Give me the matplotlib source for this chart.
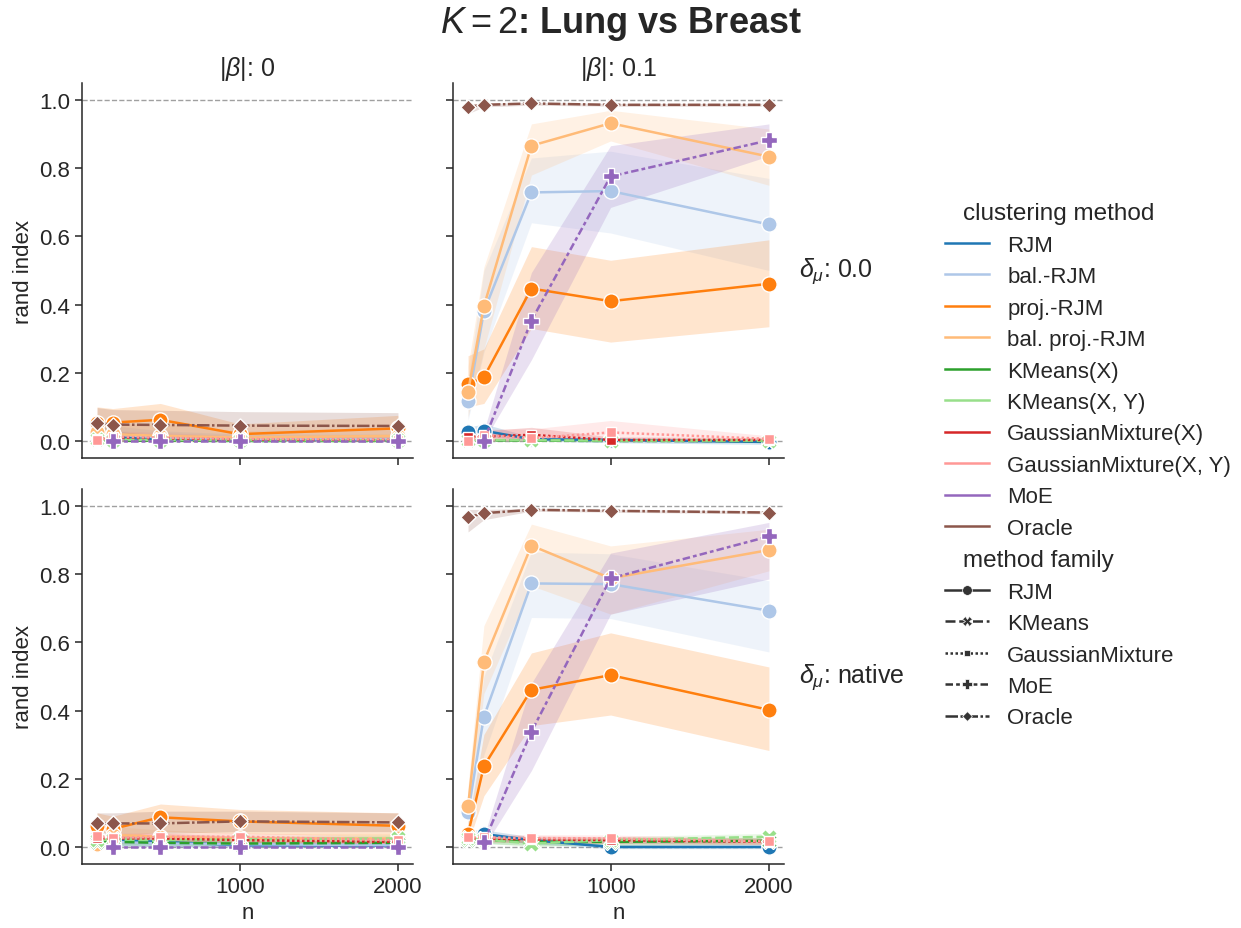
import numpy as np
import matplotlib.pyplot as plt
from matplotlib.lines import Line2D

plt.rcParams["font.family"] = ["Liberation Sans", "DejaVu Sans"]
plt.rcParams["mathtext.fontset"] = "custom"
plt.rcParams["mathtext.rm"] = "Liberation Sans"
plt.rcParams["mathtext.it"] = "Liberation Sans:italic"
plt.rcParams["mathtext.bf"] = "Liberation Sans:bold"
plt.rcParams["axes.linewidth"] = 1.1
plt.rcParams["axes.edgecolor"] = "#262626"
plt.rcParams["text.color"] = "#262626"
plt.rcParams["axes.labelcolor"] = "#262626"
plt.rcParams["xtick.color"] = "#262626"
plt.rcParams["ytick.color"] = "#262626"

# ---- data ----
n_values = [100, 200, 500, 1000, 2000]
methods = ["RJM", "bal.-RJM", "proj.-RJM", "bal. proj.-RJM", "KMeans(X)", "KMeans(X, Y)",
           "GaussianMixture(X)", "GaussianMixture(X, Y)", "MoE", "Oracle"]
families = ["RJM", "RJM", "RJM", "RJM", "KMeans", "KMeans",
            "GaussianMixture", "GaussianMixture", "MoE", "Oracle"]
family_order = ["RJM", "KMeans", "GaussianMixture", "MoE", "Oracle"]
col_titles = [r"$|\beta|$: 0", r"$|\beta|$: 0.1"]
row_titles = [r"$\delta_\mu$: 0.0", r"$\delta_\mu$: native"]
nan = np.nan

# |beta| = 0, delta_mu = 0.0
mean_b0_d0 = {
    "RJM": [0.02, 0.01, 0.005, 0.003, 0.003],
    "bal.-RJM": [0.02, 0.02, 0.01, 0.005, 0.005],
    "proj.-RJM": [0.054, 0.054, 0.062, 0.02, 0.037],
    "bal. proj.-RJM": [0.027, 0.02, 0.015, 0.01, 0.015],
    "KMeans(X)": [0.002, 0.001, 0.001, 0.0, 0.0],
    "KMeans(X, Y)": [0.005, 0.004, 0.003, 0.002, 0.002],
    "GaussianMixture(X)": [0.005, 0.01, 0.008, 0.004, 0.003],
    "GaussianMixture(X, Y)": [0.002, 0.012, 0.01, 0.006, 0.004],
    "MoE": [nan, 0.0, 0.0, 0.0, 0.0],
    "Oracle": [0.052, 0.048, 0.047, 0.045, 0.044],
}
lo_b0_d0 = {
    "RJM": [0.0, 0.0, 0.0, 0.0, 0.0],
    "bal.-RJM": [0.0, 0.0, 0.0, 0.0, 0.0],
    "proj.-RJM": [0.015, 0.02, 0.02, 0.0, 0.005],
    "bal. proj.-RJM": [0.0, 0.0, 0.0, 0.0, 0.0],
    "KMeans(X)": [0.0, 0.0, 0.0, 0.0, 0.0],
    "KMeans(X, Y)": [0.0, 0.0, 0.0, 0.0, 0.0],
    "GaussianMixture(X)": [0.0, 0.0, 0.0, 0.0, 0.0],
    "GaussianMixture(X, Y)": [0.0, 0.0, 0.0, 0.0, 0.0],
    "MoE": [nan, 0.0, 0.0, 0.0, 0.0],
    "Oracle": [0.01, 0.01, 0.01, 0.01, 0.01],
}
hi_b0_d0 = {
    "RJM": [0.05, 0.03, 0.015, 0.01, 0.01],
    "bal.-RJM": [0.05, 0.045, 0.03, 0.02, 0.02],
    "proj.-RJM": [0.1, 0.095, 0.11, 0.05, 0.075],
    "bal. proj.-RJM": [0.06, 0.05, 0.05, 0.03, 0.04],
    "KMeans(X)": [0.005, 0.004, 0.003, 0.002, 0.002],
    "KMeans(X, Y)": [0.012, 0.01, 0.008, 0.006, 0.006],
    "GaussianMixture(X)": [0.015, 0.025, 0.02, 0.012, 0.01],
    "GaussianMixture(X, Y)": [0.01, 0.03, 0.025, 0.015, 0.012],
    "MoE": [nan, 0.004, 0.004, 0.004, 0.004],
    "Oracle": [0.098, 0.092, 0.09, 0.086, 0.083],
}

# |beta| = 0.1, delta_mu = 0.0
mean_b1_d0 = {
    "RJM": [0.027, 0.03, 0.005, 0.003, -0.003],
    "bal.-RJM": [0.116, 0.38, 0.729, 0.733, 0.635],
    "proj.-RJM": [0.168, 0.187, 0.447, 0.41, 0.461],
    "bal. proj.-RJM": [0.145, 0.395, 0.866, 0.932, 0.834],
    "KMeans(X)": [0.003, 0.002, 0.001, 0.0, 0.0],
    "KMeans(X, Y)": [0.004, 0.003, 0.002, 0.001, 0.001],
    "GaussianMixture(X)": [0.012, 0.013, 0.018, 0.003, 0.003],
    "GaussianMixture(X, Y)": [0.0, 0.017, 0.008, 0.025, 0.006],
    "MoE": [nan, 0.0, 0.353, 0.776, 0.882],
    "Oracle": [0.98, 0.986, 0.99, 0.986, 0.986],
}
lo_b1_d0 = {
    "RJM": [0.01, 0.015, 0.0, -0.005, -0.01],
    "bal.-RJM": [0.06, 0.26, 0.64, 0.61, 0.5],
    "proj.-RJM": [0.1, 0.11, 0.33, 0.29, 0.335],
    "bal. proj.-RJM": [0.07, 0.27, 0.78, 0.88, 0.75],
    "KMeans(X)": [0.0, 0.0, 0.0, 0.0, 0.0],
    "KMeans(X, Y)": [0.0, 0.0, 0.0, 0.0, 0.0],
    "GaussianMixture(X)": [0.0, 0.0, 0.005, 0.0, 0.0],
    "GaussianMixture(X, Y)": [0.0, 0.0, 0.0, 0.005, 0.0],
    "MoE": [nan, 0.0, 0.238, 0.685, 0.836],
    "Oracle": [0.96, 0.98, 0.985, 0.982, 0.982],
}
hi_b1_d0 = {
    "RJM": [0.04, 0.05, 0.012, 0.01, 0.004],
    "bal.-RJM": [0.18, 0.5, 0.83, 0.85, 0.77],
    "proj.-RJM": [0.25, 0.27, 0.57, 0.53, 0.59],
    "bal. proj.-RJM": [0.22, 0.51, 0.93, 0.97, 0.915],
    "KMeans(X)": [0.008, 0.006, 0.004, 0.002, 0.002],
    "KMeans(X, Y)": [0.01, 0.008, 0.006, 0.004, 0.004],
    "GaussianMixture(X)": [0.03, 0.03, 0.04, 0.012, 0.01],
    "GaussianMixture(X, Y)": [0.01, 0.035, 0.035, 0.06, 0.015],
    "MoE": [nan, 0.03, 0.494, 0.866, 0.93],
    "Oracle": [0.99, 0.99, 0.993, 0.99, 0.99],
}

# |beta| = 0, delta_mu = native
mean_b0_dn = {
    "RJM": [0.03, 0.02, 0.015, 0.005, 0.004],
    "bal.-RJM": [0.02, 0.015, 0.01, 0.008, 0.005],
    "proj.-RJM": [0.062, 0.053, 0.087, 0.075, 0.062],
    "bal. proj.-RJM": [0.009, 0.035, 0.03, 0.025, 0.025],
    "KMeans(X)": [0.015, 0.015, 0.012, 0.01, 0.012],
    "KMeans(X, Y)": [0.02, 0.022, 0.02, 0.022, 0.025],
    "GaussianMixture(X)": [0.025, 0.025, 0.025, 0.02, 0.015],
    "GaussianMixture(X, Y)": [0.032, 0.027, 0.03, 0.03, 0.02],
    "MoE": [nan, 0.0, 0.0, 0.0, 0.0],
    "Oracle": [0.069, 0.069, 0.069, 0.075, 0.072],
}
lo_b0_dn = {
    "RJM": [0.01, 0.005, 0.0, 0.0, 0.0],
    "bal.-RJM": [0.0, 0.0, 0.0, 0.0, 0.0],
    "proj.-RJM": [0.03, 0.025, 0.045, 0.04, 0.03],
    "bal. proj.-RJM": [0.0, 0.01, 0.01, 0.01, 0.01],
    "KMeans(X)": [0.005, 0.005, 0.005, 0.004, 0.005],
    "KMeans(X, Y)": [0.01, 0.012, 0.01, 0.012, 0.015],
    "GaussianMixture(X)": [0.012, 0.012, 0.012, 0.01, 0.007],
    "GaussianMixture(X, Y)": [0.018, 0.015, 0.018, 0.018, 0.01],
    "MoE": [nan, 0.0, 0.0, 0.0, 0.0],
    "Oracle": [0.035, 0.04, 0.04, 0.045, 0.045],
}
hi_b0_dn = {
    "RJM": [0.05, 0.035, 0.03, 0.015, 0.01],
    "bal.-RJM": [0.04, 0.03, 0.025, 0.02, 0.015],
    "proj.-RJM": [0.1, 0.09, 0.126, 0.11, 0.1],
    "bal. proj.-RJM": [0.03, 0.06, 0.05, 0.04, 0.04],
    "KMeans(X)": [0.025, 0.025, 0.02, 0.018, 0.02],
    "KMeans(X, Y)": [0.03, 0.032, 0.03, 0.032, 0.035],
    "GaussianMixture(X)": [0.04, 0.04, 0.04, 0.032, 0.025],
    "GaussianMixture(X, Y)": [0.046, 0.04, 0.042, 0.042, 0.03],
    "MoE": [nan, 0.004, 0.004, 0.004, 0.004],
    "Oracle": [0.1, 0.1, 0.105, 0.105, 0.1],
}

# |beta| = 0.1, delta_mu = native
mean_b1_dn = {
    "RJM": [0.038, 0.038, 0.02, 0.0, 0.0],
    "bal.-RJM": [0.102, 0.382, 0.773, 0.771, 0.693],
    "proj.-RJM": [0.038, 0.237, 0.461, 0.504, 0.402],
    "bal. proj.-RJM": [0.119, 0.543, 0.884, 0.788, 0.871],
    "KMeans(X)": [0.02, 0.02, 0.015, 0.015, 0.018],
    "KMeans(X, Y)": [0.025, 0.022, 0.01, 0.02, 0.03],
    "GaussianMixture(X)": [0.025, 0.025, 0.022, 0.02, 0.015],
    "GaussianMixture(X, Y)": [0.028, 0.028, 0.026, 0.025, 0.016],
    "MoE": [nan, 0.014, 0.338, 0.788, 0.911],
    "Oracle": [0.967, 0.979, 0.989, 0.986, 0.981],
}
lo_b1_dn = {
    "RJM": [0.02, 0.025, 0.01, -0.005, -0.005],
    "bal.-RJM": [0.05, 0.27, 0.673, 0.67, 0.572],
    "proj.-RJM": [0.01, 0.15, 0.356, 0.387, 0.283],
    "bal. proj.-RJM": [0.06, 0.45, 0.766, 0.683, 0.81],
    "KMeans(X)": [0.01, 0.01, 0.005, 0.005, 0.008],
    "KMeans(X, Y)": [0.015, 0.012, 0.0, 0.01, 0.02],
    "GaussianMixture(X)": [0.015, 0.015, 0.012, 0.01, 0.007],
    "GaussianMixture(X, Y)": [0.018, 0.018, 0.016, 0.015, 0.008],
    "MoE": [nan, 0.0, 0.224, 0.683, 0.786],
    "Oracle": [0.924, 0.96, 0.985, 0.982, 0.977],
}
hi_b1_dn = {
    "RJM": [0.05, 0.05, 0.03, 0.006, 0.006],
    "bal.-RJM": [0.16, 0.5, 0.865, 0.86, 0.781],
    "proj.-RJM": [0.07, 0.33, 0.569, 0.628, 0.528],
    "bal. proj.-RJM": [0.18, 0.649, 0.947, 0.883, 0.932],
    "KMeans(X)": [0.03, 0.03, 0.025, 0.025, 0.028],
    "KMeans(X, Y)": [0.035, 0.032, 0.02, 0.03, 0.04],
    "GaussianMixture(X)": [0.035, 0.035, 0.032, 0.03, 0.025],
    "GaussianMixture(X, Y)": [0.038, 0.038, 0.036, 0.035, 0.026],
    "MoE": [nan, 0.03, 0.48, 0.862, 0.952],
    "Oracle": [0.99, 0.99, 0.993, 0.99, 0.986],
}

panels = [
    [(mean_b0_d0, lo_b0_d0, hi_b0_d0), (mean_b1_d0, lo_b1_d0, hi_b1_d0)],
    [(mean_b0_dn, lo_b0_dn, hi_b0_dn), (mean_b1_dn, lo_b1_dn, hi_b1_dn)],
]

# ---- styles ----
tab20 = plt.get_cmap("tab20").colors
colors = dict(zip(methods, list(tab20[:9]) + [tab20[10]]))
family_markers = {"RJM": "o", "KMeans": "X", "GaussianMixture": (4, 0, 45),
                  "MoE": "P", "Oracle": (4, 0, 0)}
family_dashes = {"RJM": None, "KMeans": (4, 1.5), "GaussianMixture": (1, 1),
                 "MoE": (3, 1.25, 1.5, 1.25), "Oracle": (5, 1, 1, 1)}
LW = 1.8
MS = 11

W, H = 1241, 929
fig = plt.figure(figsize=(W / 100, H / 100), dpi=100)
col_px = [(82, 413), (453, 784)]
row_px = [(84, 459), (490, 865)]

n_arr = np.array(n_values, dtype=float)
for r in range(2):
    for c in range(2):
        x0, x1 = col_px[c]
        y0, y1 = row_px[r]
        ax = fig.add_axes([x0 / W, 1 - y1 / H, (x1 - x0) / W, (y1 - y0) / H])
        means, los, his = panels[r][c]
        for val in (0.0, 1.0):
            ax.axhline(val, color="#a0a0a0", ls="--", lw=1.0, zorder=0.5)
        for m, fam in zip(methods, families):
            mean = np.array(means[m], dtype=float)
            lo = np.array(los[m], dtype=float)
            hi = np.array(his[m], dtype=float)
            ok = ~np.isnan(mean)
            ax.fill_between(n_arr[ok], lo[ok], hi[ok], color=colors[m], alpha=0.2, lw=0)
            line, = ax.plot(n_arr[ok], mean[ok], color=colors[m], lw=LW,
                            marker=family_markers[fam], ms=MS, mec="w", mew=1.0)
            if family_dashes[fam] is not None:
                line.set_dashes(family_dashes[fam])
        ax.set_xlim(5, 2095)
        ax.set_ylim(-0.05, 1.05)
        ax.set_xticks([1000, 2000])
        ax.set_yticks([0.0, 0.2, 0.4, 0.6, 0.8, 1.0])
        ax.spines["top"].set_visible(False)
        ax.spines["right"].set_visible(False)
        ax.tick_params(labelsize=16, length=5, width=1.1)
        if c == 0:
            ax.set_ylabel("rand index", fontsize=16)
        else:
            ax.tick_params(labelleft=False)
        if r == 1:
            ax.set_xlabel("n", fontsize=16)
        else:
            ax.tick_params(labelbottom=False)
            ax.set_title(col_titles[c], fontsize=18, pad=6)
        if c == 1:
            ax.annotate(row_titles[r], xy=(1.045, 0.5), xycoords="axes fraction",
                        ha="left", va="center", fontsize=18)

fig.suptitle(r"$K=2$: Lung vs Breast", fontsize=26, fontweight="bold", y=0.995)

# ---- legend ----
handles, labels = [], []
handles.append(Line2D([], [], visible=False)); labels.append("clustering method")
for m in methods:
    handles.append(Line2D([], [], color=colors[m], lw=LW)); labels.append(m)
handles.append(Line2D([], [], visible=False)); labels.append("method family")
for fam in family_order:
    h = Line2D([], [], color="#333333", lw=LW, marker=family_markers[fam], ms=7,
               mec="w", mew=0.5)
    if family_dashes[fam] is not None:
        h.set_dashes(family_dashes[fam])
    handles.append(h); labels.append(fam)

leg = fig.legend(handles, labels, loc="center left", bbox_to_anchor=(945 / W, 0.498),
                 frameon=False, fontsize=16, borderpad=0, borderaxespad=0,
                 labelspacing=0.47, handlelength=2.0, handletextpad=0.8)
# subtitle entries: no handle width and a larger font, as seaborn does
for hpack in leg._legend_handle_box.get_children()[0].get_children():
    draw_area, text_area = hpack.get_children()
    if not all(a.get_visible() for a in draw_area.get_children()):
        draw_area.set_width(0)
        for t in text_area.get_children():
            t.set_fontsize(17.5)

fig.savefig("out.png", dpi=100)
